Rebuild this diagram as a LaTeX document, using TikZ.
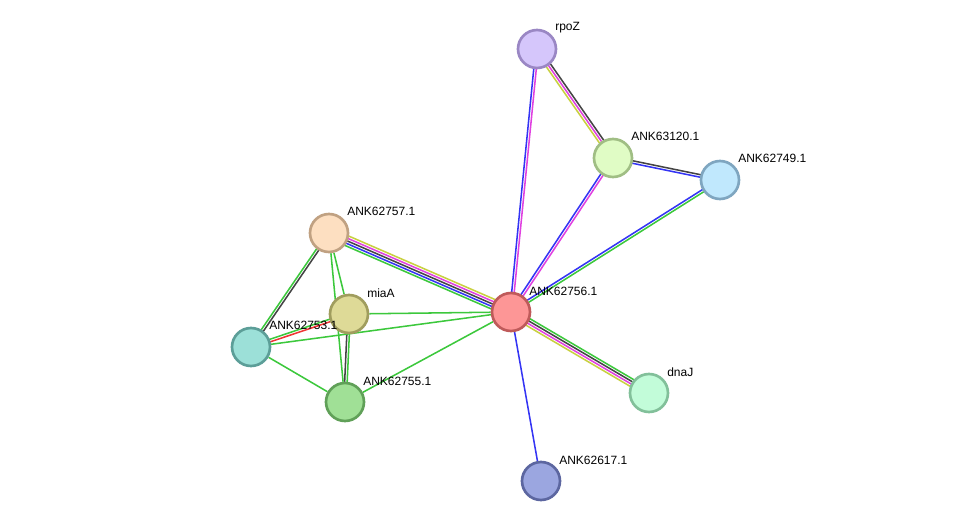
\documentclass[tikz,border=0pt]{standalone}
\usepackage{fontspec}
\setmainfont{Liberation Sans}
\usetikzlibrary{calc,backgrounds}
\definecolor{eblue}{HTML}{3434F4}
\definecolor{egreen}{HTML}{3CC83C}
\definecolor{emag}{HTML}{E040E0}
\definecolor{eyel}{HTML}{C8D040}
\definecolor{egrey}{HTML}{444444}
\definecolor{ered}{HTML}{F03434}
\tikzset{
  pnode/.style={circle, minimum size=28.5pt, inner sep=0pt, line width=2pt},
  lbl/.style={anchor=west, font=\fontsize{9pt}{10pt}\selectfont, inner sep=0pt, text=black},
  eline/.style={line width=1.15pt},
}
\newcommand\medge[4]{%
  \foreach \c [count=\i] in {#4} {%
    \pgfmathsetmacro\off{(\i-(#3+1)/2)*1.9}
    \draw[eline, draw=\c] ($(#1)!\off pt!90:(#2)$) -- ($(#2)!\off pt!-90:(#1)$);
  }%
}
\begin{document}
\begin{tikzpicture}[x=0.75pt, y=-0.75pt]
\useasboundingbox (0,0) rectangle (975,527);
\node[pnode, fill={rgb,255:red,213;green,198;blue,251}, draw={rgb,255:red,154;green,135;blue,196}] (rpoZ) at (537,49) {};
\node[pnode, fill={rgb,255:red,224;green,252;blue,197}, draw={rgb,255:red,160;green,190;blue,132}] (n120) at (613,158) {};
\node[pnode, fill={rgb,255:red,192;green,232;blue,253}, draw={rgb,255:red,127;green,166;blue,192}] (n749) at (720,180) {};
\node[pnode, fill={rgb,255:red,253;green,223;blue,193}, draw={rgb,255:red,192;green,161;blue,130}] (n757) at (329,233) {};
\node[pnode, fill={rgb,255:red,222;green,218;blue,151}, draw={rgb,255:red,160;green,157;blue,94}] (miaA) at (349,314) {};
\node[pnode, fill={rgb,255:red,253;green,150;blue,150}, draw={rgb,255:red,191;green,90;blue,90}] (n756) at (511,312) {};
\node[pnode, fill={rgb,255:red,156;green,224;blue,216}, draw={rgb,255:red,92;green,158;blue,152}] (n753) at (251,347) {};
\node[pnode, fill={rgb,255:red,160;green,224;blue,150}, draw={rgb,255:red,96;green,160;blue,88}] (n755) at (345,402) {};
\node[pnode, fill={rgb,255:red,194;green,252;blue,217}, draw={rgb,255:red,130;green,192;blue,154}] (dnaJ) at (649,393) {};
\node[pnode, fill={rgb,255:red,155;green,166;blue,224}, draw={rgb,255:red,92;green,102;blue,160}] (n617) at (541,481) {};

\node[lbl] (l-rpoZ) at (555,28) {rpoZ};
\node[lbl] (l-n120) at (631,136) {ANK63120.1};
\node[lbl] (l-n749) at (738,158) {ANK62749.1};
\node[lbl] (l-n757) at (347,211) {ANK62757.1};
\node[lbl] (l-miaA) at (367,293) {miaA};
\node[lbl] (l-n756) at (529,291) {ANK62756.1};
\node[lbl] (l-n753) at (269,325) {ANK62753.1};
\node[lbl] (l-n755) at (363,381) {ANK62755.1};
\node[lbl] (l-dnaJ) at (667,372) {dnaJ};
\node[lbl] (l-n617) at (559,460) {ANK62617.1};

\begin{scope}[on background layer]
\medge{rpoZ}{n756}{2}{eblue,emag}
\medge{rpoZ}{n120}{3}{eyel,emag,egrey}
\medge{n120}{n749}{2}{eblue,egrey}
\medge{n120}{n756}{2}{eblue,emag}
\medge{n749}{n756}{2}{eblue,egreen}
\medge{n757}{n756}{5}{egreen,eblue,egrey,emag,eyel}
\medge{n756}{dnaJ}{4}{eyel,emag,egrey,egreen}
\medge{n757}{n753}{2}{egreen,egrey}
\medge{n753}{miaA}{2}{ered,egreen}
\medge{miaA}{n755}{2}{egrey,egreen}
\draw[eline, draw=eblue] (n756) -- (n617);
\draw[eline, draw=egreen] (n757) -- (miaA);
\draw[eline, draw=egreen] (n757) -- (n755);
\draw[eline, draw=egreen] (miaA) -- (n756);
\draw[eline, draw=egreen] (n753) -- (n756);
\draw[eline, draw=egreen] (n753) -- (n755);
\draw[eline, draw=egreen] (n755) -- (n756);
\end{scope}
\end{tikzpicture}
\end{document}
